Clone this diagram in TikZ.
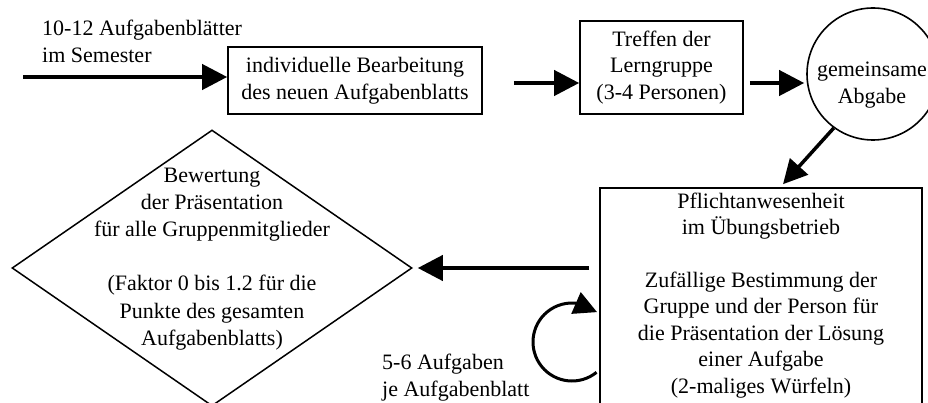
\documentclass[tikz,border=0pt]{standalone}
\usepackage{fontspec}
\setmainfont{Liberation Serif}
\usetikzlibrary{shapes.geometric,arrows.meta,bending}
\tikzset{
  txt/.style={font=\fontsize{22}{26.5}\selectfont, align=center, inner sep=0pt},
  box/.style={txt, draw, line width=1.6pt},
  bigarr/.style={line width=4pt, -{Triangle[length=25pt,width=25pt]}},
  midarr/.style={line width=3.5pt, -{Triangle[length=24pt,width=24pt]}},
  looparr/.style={line width=3pt, -{Triangle[length=23pt,width=23pt,flex]}}
}
\begin{document}
\begin{tikzpicture}[x=1pt,y=1pt]
\useasboundingbox (0,0) rectangle (928,-403);
\clip (0,0) rectangle (928,-403);

% nodes
\node[box, minimum width=254pt, minimum height=67pt] (b1) at (355,-80.5)
  {individuelle Bearbeitung\\des neuen Aufgabenblatts};
\node[box, minimum width=163pt, minimum height=93pt] (b2) at (661.5,-67.5)
  {Treffen der\\Lerngruppe\\(3-4 Personen)};
\node[draw, circle, line width=1.6pt, minimum size=132pt, inner sep=0pt] (circ) at (873,-74) {};
\node[txt] (circt) at (872,-85) {gemeinsame\\Abgabe};
\node[draw, rectangle, line width=1.6pt, minimum width=322pt, minimum height=222pt, inner sep=0pt] (b3) at (761,-299) {};
\node[txt] (b3t) at (761,-295.5)
  {Pflichtanwesenheit\\im Übungsbetrieb\\[26pt]Zufällige Bestimmung der\\Gruppe und der Person für\\die Präsentation der Lösung\\einer Aufgabe\\(2-maliges Würfeln)};
\node[draw, diamond, line width=1.5pt, minimum width=400pt, minimum height=276pt, inner sep=0pt] (dia) at (212,-268) {};
\node[txt, font=\fontsize{22}{27.2}\selectfont] (diat) at (212,-259)
  {Bewertung\\der Präsentation\\für alle Gruppenmitglieder\\[27pt](Faktor 0 bis 1.2 für die\\Punkte des gesamten\\Aufgabenblatts)};
\node[txt, align=left, anchor=west] (lab1) at (42,-41.5) {10-12 Aufgabenblätter\\im Semester};
\node[txt, align=left, anchor=west] (lab2) at (382,-377.5) {5-6 Aufgaben\\je Aufgabenblatt};

\coordinate (start) at (23,-77);
\coordinate (loopc) at (572,-342);

% connectors
\draw[bigarr] (start) -- (start -| b1.west);
\draw[bigarr, shorten <=31pt] ([yshift=-2.5pt]b1.east) -- ([yshift=-2.5pt]b1.east -| b2.west);
\draw[bigarr, shorten <=6pt, shorten >=2pt] ([yshift=-15.5pt]b2.east) -- ([yshift=-15.5pt]b2.east -| circ.west);
\draw[midarr] (circ.234) -- ([xshift=22pt, yshift=3pt]b3.north);
\draw[bigarr, shorten <=10pt, shorten >=5pt] ([yshift=31pt]b3.west) -- (dia.east);
\draw[looparr] (loopc) ++(-51:39) arc[start angle=-51, end angle=-310, radius=39];
\end{tikzpicture}
\end{document}
